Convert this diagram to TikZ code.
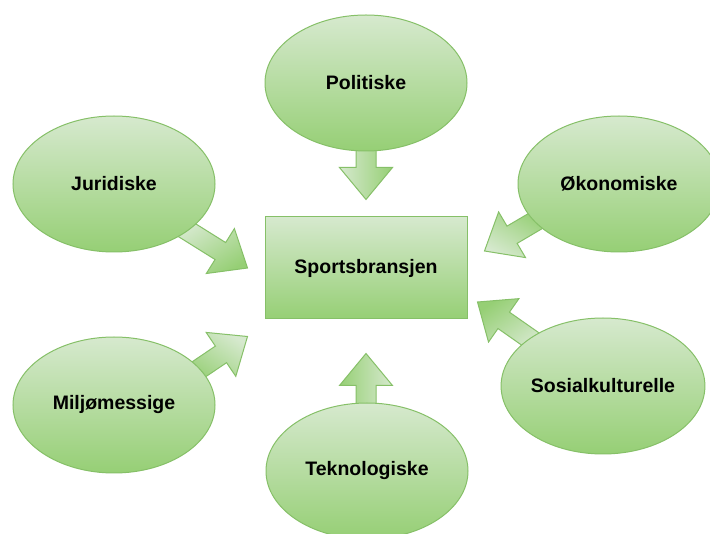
\documentclass[tikz,border=0pt]{standalone}
\usepackage{fontspec}
\setmainfont{Liberation Sans}
\usetikzlibrary{shapes.geometric,calc}
\definecolor{gtop}{RGB}{214,233,206}
\definecolor{gbot}{RGB}{150,207,117}
\definecolor{gline}{RGB}{134,192,104}
\tikzset{
  factor/.style={ellipse, draw=gline, line width=1pt, top color=gtop, bottom color=gbot,
    minimum width=202pt, minimum height=136pt, inner sep=0pt,
    font=\fontsize{19.5}{23}\selectfont\bfseries},
  centerbox/.style={rectangle, draw=gline, line width=1pt, top color=gtop, bottom color=gbot,
    minimum width=202pt, minimum height=102pt, inner sep=0pt,
    font=\fontsize{19.5}{23}\selectfont\bfseries},
  blockarrowstyle/.style={draw=gline, line width=1pt, top color=gtop, bottom color=gbot, line join=miter}
}
\newcommand\blkarrow[3]{%
  \begin{scope}[shift={(#1)}, rotate=#2]
    \path[blockarrowstyle, shading angle={-(#2)}] (0,0) -- (-32,26.5) -- (-32,10) -- (-#3,10)
      -- (-#3,-10) -- (-32,-10) -- (-32,-26.5) -- cycle;
  \end{scope}}
\begin{document}
\begin{tikzpicture}[x=1pt,y=-1pt]
  \useasboundingbox (0,0) rectangle (710,534);
  \clip (0,0) rectangle (710,534);
  \fill[white] (0,0) rectangle (710,534);
  \node[centerbox] (box) at (366,268) {Sportsbransjen};
  \coordinate (tipPol) at ($(box.north)+(0,-17)$);
  \coordinate (tipTek) at ($(box.south)+(0,34)$);
  \coordinate (tipJur) at ($(box.west)+(-17,0)$);
  \coordinate (tipMil) at ($(box.south west)+(-17,17)$);
  \coordinate (tipOko) at ($(box.east)+(17,-17)$);
  \coordinate (tipSos) at ($(box.east)+(10,34)$);
  \blkarrow{tipPol}{-90}{56}
  \blkarrow{tipTek}{90}{58}
  \blkarrow{tipJur}{-32}{76}
  \blkarrow{tipMil}{34}{68}
  \blkarrow{tipOko}{-149.5}{66}
  \blkarrow{tipSos}{145}{72}
  \node[factor] (pol) at (366,83) {Politiske};
  \node[factor] (jur) at (114,184) {Juridiske};
  \node[factor] (oko) at (619,184) {Økonomiske};
  \node[factor] (mil) at (114,405) {Miljømessige};
  \node[factor] (sos) at (603,386) {Sosialkulturelle};
  \node[factor] (tek) at (367,471) {Teknologiske};
\end{tikzpicture}
\end{document}
